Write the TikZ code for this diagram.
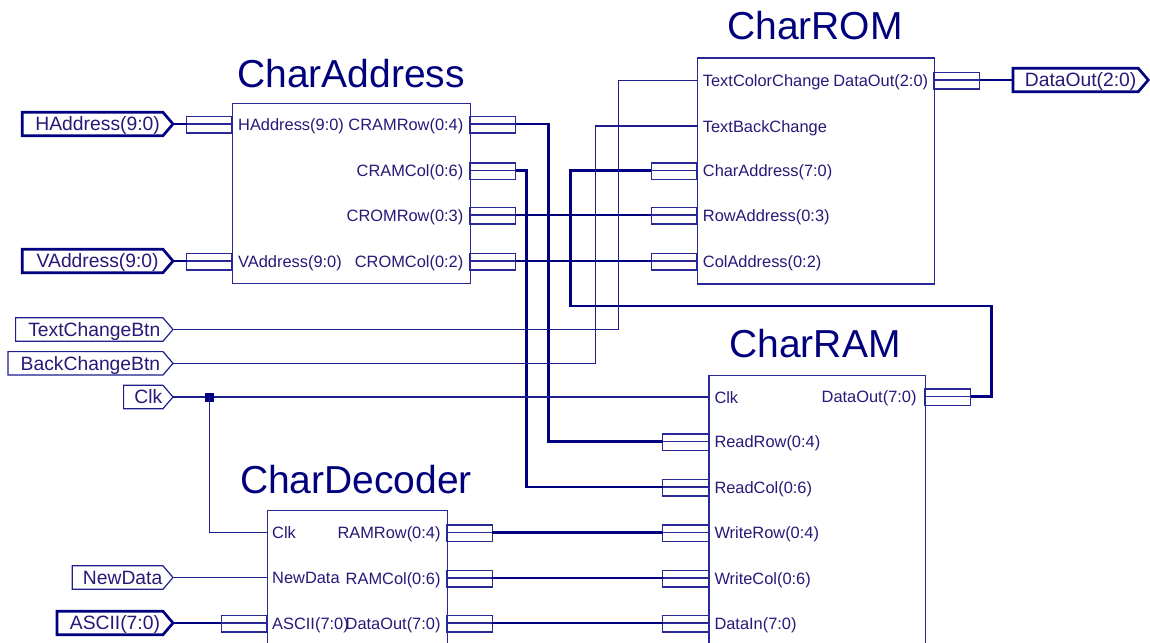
\documentclass[tikz,border=0pt]{standalone}
\usepackage{fontspec}
\setmainfont{Liberation Sans}
\definecolor{buscol}{RGB}{0,0,128}
\definecolor{wirecol}{RGB}{30,30,140}
\definecolor{edgecol}{RGB}{40,40,150}
\definecolor{lblcol}{RGB}{40,25,120}
\definecolor{ttlcol}{RGB}{0,0,125}
% outline of a port flag: flat left side, pointed right side
\newcommand\portoutline[2]{\draw[#1] (#2.north west) -- ([xshift=-10pt]#2.north east) -- (#2.east) -- ([xshift=-10pt]#2.south east) -- (#2.south west) -- cycle;}
\begin{document}
\begin{tikzpicture}[x=1pt,y=-1pt,
  blk/.style={draw=edgecol, line width=1.3pt, inner sep=0, anchor=north west},
  pinbox/.style={draw=edgecol, line width=1.2pt},
  bus/.style={draw=buscol, line width=2.7pt},
  sig/.style={draw=wirecol, line width=1.2pt},
  busport/.style={draw=buscol, line width=2.7pt},
  sigport/.style={draw=wirecol, line width=1.2pt},
  lab/.style={inner sep=0, text=lblcol, font=\fontsize{16.4}{18}\selectfont},
  ttl/.style={inner sep=0, anchor=base, text=ttlcol, font=\fontsize{39}{41}\selectfont},
  port/.style={inner sep=0, minimum height=23, text height=16, text depth=2.4, anchor=east, text=lblcol, font=\fontsize{19.3}{21}\selectfont},
  junc/.style={fill=buscol, rectangle, minimum size=9, inner sep=0},
  pinL/.pic={\draw[pinbox] (-45.5,-7.5) rectangle (0,9); \draw[pinbox] (-45.5,0) -- (0,0); \coordinate (-o) at (-45.5,0);},
  pinR/.pic={\draw[pinbox] (0,-7.5) rectangle (45.5,9); \draw[pinbox] (0,0) -- (45.5,0); \coordinate (-o) at (45.5,0);}
]
\clip (0,0) rectangle (1150,642);
\fill[white] (0,0) rectangle (1150,642);

% ---------- blocks ----------
\node[blk, minimum width=238, minimum height=180] (ca) at (232,103) {};
\node[blk, minimum width=237.3, minimum height=226] (crom) at (696.7,57.3) {};
\node[blk, minimum width=216.7, minimum height=330] (cram) at (708.3,375) {};
\node[blk, minimum width=180, minimum height=200] (cdec) at (266.7,510) {};

\node[ttl] (tca) at (351,87) {CharAddress};
\node[ttl] (tcrom) at (815,40) {CharROM};
\node[ttl] (tcram) at (815,357) {CharRAM};
\node[ttl] (tcdec) at (356,493) {CharDecoder};

% ---------- bus pins ----------
\pic (caH) at (232,124) {pinL};
\pic (caV) at (232,261) {pinL};
\pic (caRr) at (470,124) {pinR};
\pic (caRc) at (470,170.5) {pinR};
\pic (caOr) at (470,215) {pinR};
\pic (caOc) at (470,261) {pinR};

\pic (cromCa) at (696.7,170.5) {pinL};
\pic (cromRa) at (696.7,215) {pinL};
\pic (cromCo) at (696.7,261) {pinL};
\pic (cromDo) at (934,80) {pinR};

\pic (cramDo) at (925,396.5) {pinR};
\pic (cramRr) at (708.3,441.5) {pinL};
\pic (cramRc) at (708.3,487) {pinL};
\pic (cramWr) at (708.3,532.5) {pinL};
\pic (cramWc) at (708.3,578) {pinL};
\pic (cramDi) at (708.3,623) {pinL};

\pic (cdecAs) at (266.7,623) {pinL};
\pic (cdecRr) at (446.7,532.5) {pinR};
\pic (cdecRc) at (446.7,578) {pinR};
\pic (cdecDo) at (446.7,623) {pinR};

% single-bit pins sit on the block edges
\coordinate (cromTc) at (696.7,80.5);
\coordinate (cromTb) at (696.7,126);
\coordinate (cramClk) at (708.3,397);
\coordinate (cdecClk) at (266.7,532.5);
\coordinate (cdecNd) at (266.7,577.5);

% ---------- pin labels ----------
\node[lab, anchor=base west] at (238,130) {HAddress(9:0)};
\node[lab, anchor=base west] at (238,267) {VAddress(9:0)};
\node[lab, anchor=base east] at (463.5,130) {CRAMRow(0:4)};
\node[lab, anchor=base east] at (463.5,176.5) {CRAMCol(0:6)};
\node[lab, anchor=base east] at (463.5,221) {CROMRow(0:3)};
\node[lab, anchor=base east] at (463.5,267) {CROMCol(0:2)};

\node[lab, anchor=base west] at (702.7,86.5) {TextColorChange};
\node[lab, anchor=base west] at (702.7,132) {TextBackChange};
\node[lab, anchor=base west] at (702.7,176.5) {CharAddress(7:0)};
\node[lab, anchor=base west] at (702.7,221) {RowAddress(0:3)};
\node[lab, anchor=base west] at (702.7,267) {ColAddress(0:2)};
\node[lab, anchor=base east] at (928.3,86) {DataOut(2:0)};

\node[lab, anchor=base west] at (714.3,403) {Clk};
\node[lab, anchor=base east] at (916.7,402.5) {DataOut(7:0)};
\node[lab, anchor=base west] at (714.3,447.5) {ReadRow(0:4)};
\node[lab, anchor=base west] at (714.3,493) {ReadCol(0:6)};
\node[lab, anchor=base west] at (714.3,538.5) {WriteRow(0:4)};
\node[lab, anchor=base west] at (714.3,584) {WriteCol(0:6)};
\node[lab, anchor=base west] at (714.3,629) {DataIn(7:0)};

\node[lab, anchor=base west] at (272,538.5) {Clk};
\node[lab, anchor=base west] at (272,583.5) {NewData};
\node[lab, anchor=base west] at (272,629) {ASCII(7:0)};
\node[lab, anchor=base east] at (440.7,538.5) {RAMRow(0:4)};
\node[lab, anchor=base east] at (440.7,584) {RAMCol(0:6)};
\node[lab, anchor=base east] at (440.7,629) {DataOut(7:0)};

% ---------- port flags ----------
\node[port, minimum width=150.3] (hadd) at (173,124) {HAddress(9:0)};
\portoutline{busport}{hadd}
\node[port, minimum width=150.3] (vadd) at (173,261) {VAddress(9:0)};
\portoutline{busport}{vadd}
\node[port, minimum width=157] (tcb) at (173,329.5) {TextChangeBtn};
\portoutline{sigport}{tcb}
\node[port, minimum width=164.7] (bcb) at (173,363.3) {BackChangeBtn};
\portoutline{sigport}{bcb}
\node[port, minimum width=49] (clk) at (173,397) {Clk};
\portoutline{sigport}{clk}
\node[port, minimum width=100.3] (ndat) at (173,577.5) {NewData};
\portoutline{sigport}{ndat}
\node[port, minimum width=115.7] (ascii) at (173,623) {ASCII(7:0)};
\portoutline{busport}{ascii}
\node[port, minimum width=135] (dout) at (1148.3,80) {DataOut(2:0)};
\portoutline{busport}{dout}

% ---------- wiring ----------
\draw[bus] (hadd.east) -- (caH-o);
\draw[bus] (vadd.east) -- (caV-o);
\draw[bus] (caRr-o) -- ++(33.3,0) |- (cramRr-o);
\draw[bus] (caRc-o) -- ++(11,0) |- (cramRc-o);
\draw[bus] (caOr-o) -- (cromRa-o);
\draw[bus] (caOc-o) -- (cromCo-o);
\draw[bus] (cramDo-o) -- ++(21,0) -- ++(0,-90.5) -| ([xshift=-80.7pt]cromCa-o) -- (cromCa-o);
\draw[bus] (cromDo-o) -- (dout.west);

\draw[sig] (tcb.east) -| ([xshift=-78.4pt]cromTc) -- (cromTc);
\draw[sig] (bcb.east) -| ([xshift=-101pt]cromTb) -- (cromTb);
\draw[sig] (clk.east) -- (cramClk);
\node[junc] (j) at (209.3,397) {};
\draw[sig] (j.center) |- (cdecClk);
\draw[sig] (ndat.east) -- (cdecNd);
\draw[bus] (ascii.east) -- (cdecAs-o);

\draw[bus] (cdecRr-o) -- (cramWr-o);
\draw[bus] (cdecRc-o) -- (cramWc-o);
\draw[bus] (cdecDo-o) -- (cramDi-o);
\end{tikzpicture}
\end{document}
